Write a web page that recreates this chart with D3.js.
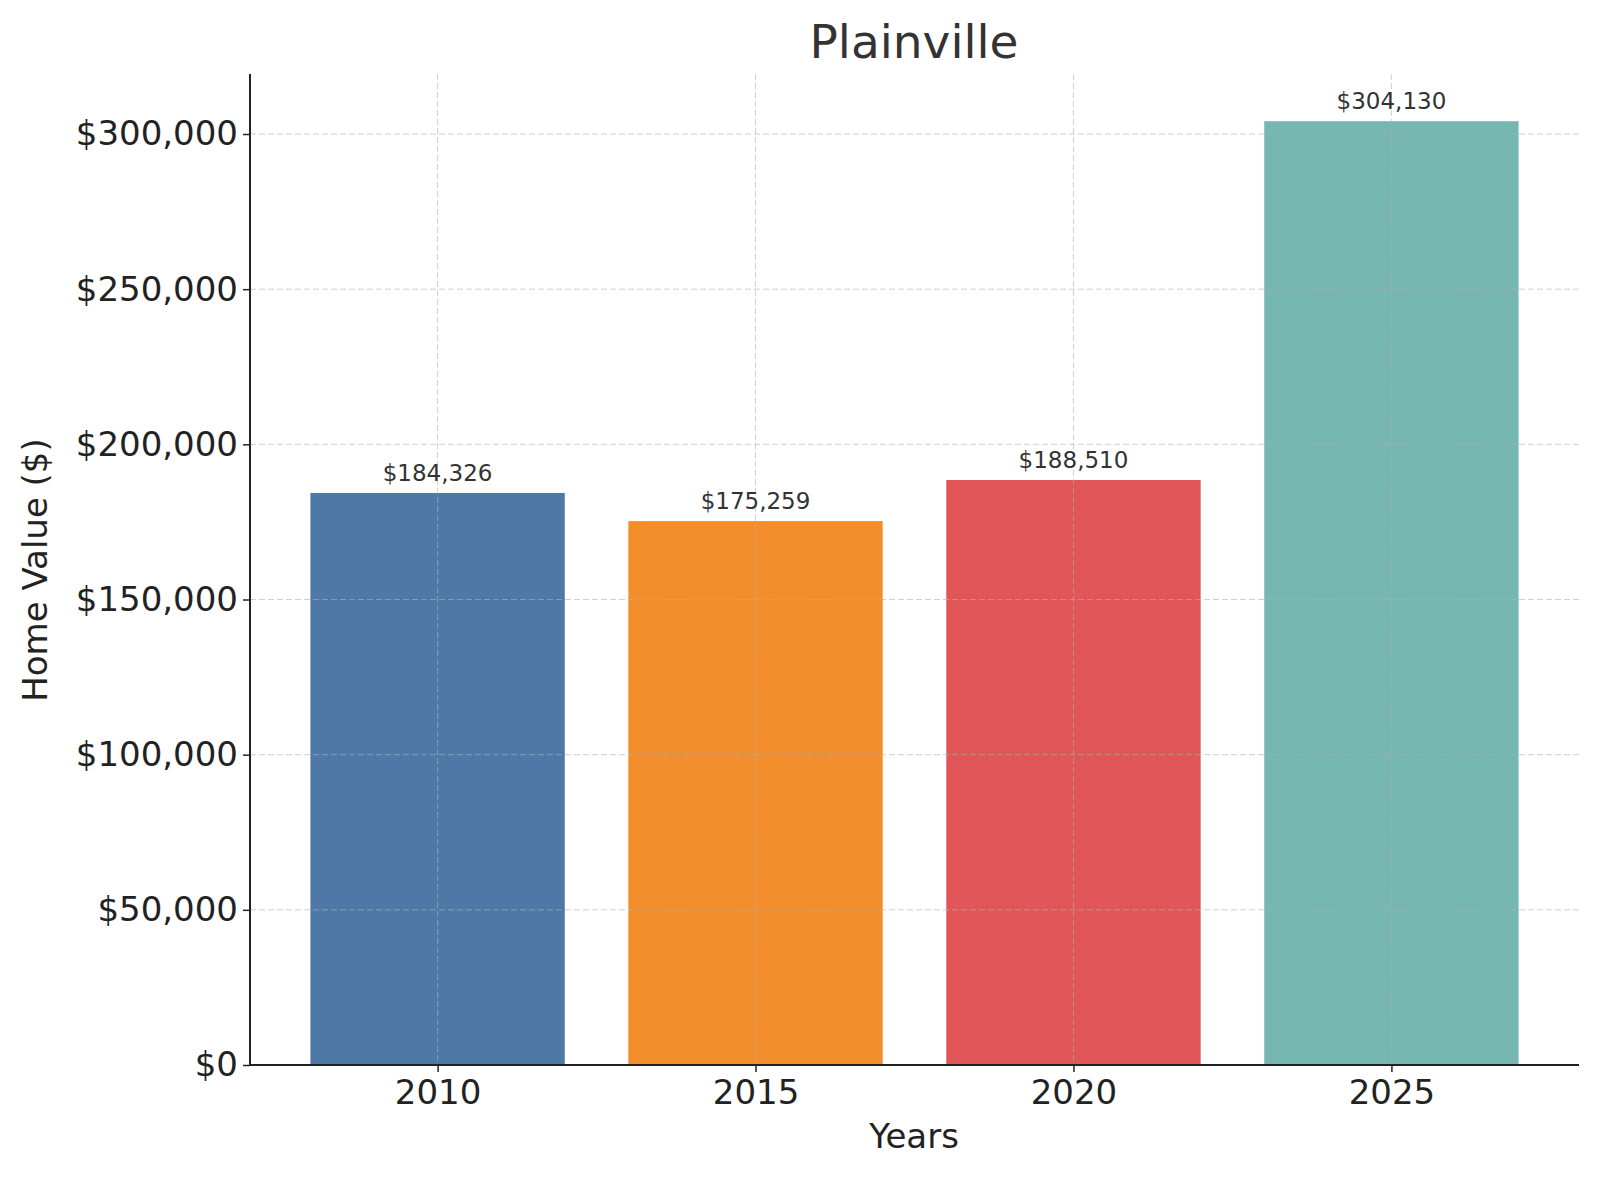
<!DOCTYPE html>
<html><head><meta charset="utf-8">
<script src="https://cdn.jsdelivr.net/npm/d3@7"></script>
<style>body{margin:0;background:#fff}text{font-family:"DejaVu Sans",sans-serif}</style>
</head><body><svg id="c" width="1600" height="1180"></svg>
<script>
const years = ["2010","2015","2020","2025"];
const values = [184326,175259,188510,304130];
const colors = ["#4e79a7","#f28e2b","#e15759","#76b7b2"];
const yTicks = [0,50000,100000,150000,200000,250000,300000];

const svg = d3.select("#c");
const L=250,R=1579,T=74,B=1065;
const x = d3.scaleLinear().domain([-0.59,3.59]).range([L,R]);
const y = d3.scaleLinear().domain([0,d3.max(values)*1.05]).range([B,T]);
const bw = x(0.4)-x(-0.4);
const fmt = v => "$"+d3.format(",")(v);

svg.selectAll("rect.bar").data(values).join("rect")
  .attr("x",(d,i)=>x(i)-bw/2).attr("y",d=>y(d))
  .attr("width",bw).attr("height",d=>B-y(d)).attr("fill",(d,i)=>colors[i]);

const g = svg.append("g");
g.selectAll("line.gy").data(yTicks).join("line")
  .attr("x1",L).attr("x2",R).attr("y1",d=>y(d)).attr("y2",d=>y(d))
  .attr("stroke","#b0b0b0").attr("stroke-opacity",0.6).attr("stroke-dasharray","6,3");
g.selectAll("line.gx").data(years).join("line")
  .attr("x1",(d,i)=>x(i)).attr("x2",(d,i)=>x(i)).attr("y1",T).attr("y2",B)
  .attr("stroke","#b0b0b0").attr("stroke-opacity",0.6).attr("stroke-dasharray","6,3");

svg.selectAll("text.v").data(values).join("text")
  .attr("x",(d,i)=>x(i)).attr("y",d=>y(d)-12).attr("text-anchor","middle")
  .attr("font-size",23).attr("fill","#333").text(fmt);

const ya = svg.append("g").attr("transform",`translate(${L},0)`)
  .call(d3.axisLeft(y).tickValues(yTicks).tickFormat(fmt).tickSize(7).tickPadding(5));
const xa = svg.append("g").attr("transform",`translate(0,${B})`)
  .call(d3.axisBottom(x).tickValues([0,1,2,3]).tickFormat(i=>years[i]).tickSize(7).tickPadding(8));
[ya,xa].forEach(a=>{a.selectAll("text").attr("font-size",34).attr("fill","#222").style("font-family","DejaVu Sans");
  a.selectAll("line").attr("stroke","#222").attr("stroke-width",1.5);
  a.select(".domain").attr("stroke","#222").attr("stroke-width",2);});
ya.select(".domain").attr("d",`M0,${B}V${T}`);
xa.select(".domain").attr("d",`M${L},0H${R}`);

svg.append("text").attr("x",914).attr("y",58).attr("text-anchor","middle")
  .attr("font-size",47).attr("fill","#333").text("Plainville");
svg.append("text").attr("x",914).attr("y",1148).attr("text-anchor","middle")
  .attr("font-size",34).attr("fill","#222").text("Years");
svg.append("text").attr("transform","translate(47,570) rotate(-90)").attr("text-anchor","middle")
  .attr("font-size",34).attr("fill","#222").text("Home Value ($)");
</script></body></html>
